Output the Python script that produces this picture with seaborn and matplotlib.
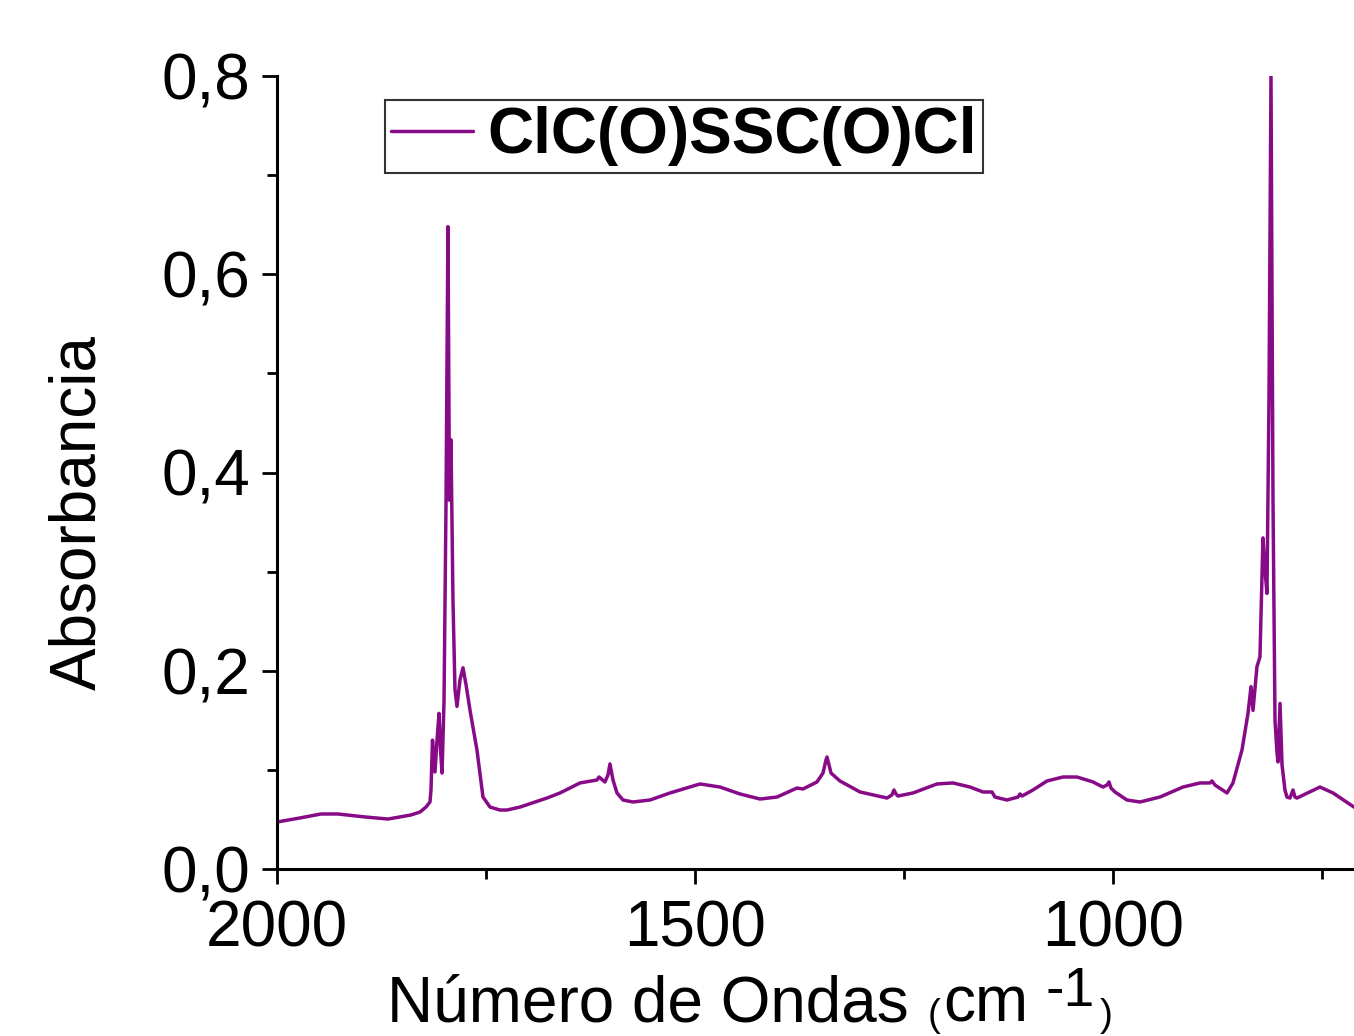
import numpy as np
import pandas as pd
import matplotlib
matplotlib.use("Agg")
import matplotlib.pyplot as plt
from matplotlib.ticker import FixedLocator, FuncFormatter
import seaborn as sns

# IR spectrum of ClC(O)SSC(O)Cl, 2000-710 cm-1
wavenumber = [
    2000.0, 1972.5, 1947.4, 1927.0, 1894.7, 1867.2, 1839.7, 1828.9, 1821.8, 1817.0,
    1815.8, 1814.0, 1811.0, 1808.6, 1806.2, 1804.4, 1802.6, 1800.2, 1797.8, 1795.5,
    1793.7, 1791.9, 1789.5, 1787.1, 1784.7, 1781.1, 1777.5, 1773.9, 1769.1, 1760.8,
    1753.6, 1745.2, 1733.3, 1724.9, 1709.3, 1677.0, 1661.5, 1637.6, 1617.2, 1614.8,
    1607.7, 1604.1, 1601.7, 1598.1, 1593.3, 1586.1, 1574.2, 1553.8, 1529.9, 1494.0,
    1470.1, 1446.2, 1422.2, 1401.9, 1378.0, 1370.8, 1354.1, 1346.9, 1343.3, 1342.1,
    1339.7, 1337.3, 1326.6, 1302.6, 1270.3, 1264.4, 1262.0, 1259.6, 1257.2, 1239.2,
    1210.5, 1191.4, 1171.0, 1155.5, 1144.7, 1141.2, 1126.8, 1113.6, 1111.2, 1108.8,
    1095.7, 1078.9, 1059.8, 1043.0, 1023.9, 1012.0, 1007.2, 1004.8, 1002.4, 997.6,
    983.3, 967.7, 943.8, 916.3, 895.9, 884.0, 881.6, 878.0, 863.6, 856.5,
    845.7, 838.5, 834.9, 832.5, 827.8, 824.2, 820.6, 818.2, 815.8, 813.4,
    811.0, 808.6, 806.2, 803.8, 802.6, 800.2, 797.8, 794.3, 791.9, 788.3,
    784.7, 782.3, 779.9, 752.4, 736.8, 711.7, 705.0,
]
absorbance = [
    0.0474, 0.0515, 0.0555, 0.0555, 0.0525, 0.0504, 0.0545, 0.0575, 0.0625, 0.0676,
    0.0797, 0.1300, 0.0979, 0.1300, 0.1570, 0.1200, 0.0968, 0.1700, 0.3720, 0.6480,
    0.3720, 0.4330, 0.2710, 0.1810, 0.1640, 0.1910, 0.2030, 0.1860, 0.1600, 0.1200,
    0.0726, 0.0625, 0.0595, 0.0595, 0.0625, 0.0716, 0.0767, 0.0868, 0.0898, 0.0928,
    0.0878, 0.0948, 0.1060, 0.0898, 0.0767, 0.0696, 0.0676, 0.0696, 0.0767, 0.0858,
    0.0827, 0.0757, 0.0706, 0.0726, 0.0817, 0.0807, 0.0878, 0.0968, 0.1100, 0.1130,
    0.1050, 0.0968, 0.0888, 0.0777, 0.0716, 0.0747, 0.0797, 0.0757, 0.0736, 0.0767,
    0.0858, 0.0868, 0.0827, 0.0777, 0.0777, 0.0726, 0.0696, 0.0726, 0.0757, 0.0736,
    0.0797, 0.0888, 0.0928, 0.0928, 0.0878, 0.0827, 0.0847, 0.0878, 0.0817, 0.0777,
    0.0696, 0.0676, 0.0726, 0.0827, 0.0868, 0.0868, 0.0888, 0.0847, 0.0767, 0.0868,
    0.1200, 0.1570, 0.1840, 0.1600, 0.2040, 0.2140, 0.3340, 0.3020, 0.2780, 0.4730,
    0.8000, 0.3720, 0.1500, 0.1170, 0.1080, 0.1670, 0.1050, 0.0797, 0.0726, 0.0716,
    0.0797, 0.0726, 0.0716, 0.0827, 0.0767, 0.0625, 0.0600,
]

series_label = "ClC(O)SSC(O)Cl"
x_major = [2000, 1500, 1000]
x_minor = [1750, 1250, 750]
y_major = [0.0, 0.2, 0.4, 0.6, 0.8]
y_minor = [0.1, 0.3, 0.5, 0.7]

sns.set_style("ticks")
plt.rcParams["font.family"] = ["Liberation Sans", "DejaVu Sans"]
plt.rcParams["text.color"] = "black"
plt.rcParams["axes.labelcolor"] = "black"

W, H = 1354, 1036
fig = plt.figure(figsize=(W / 100, H / 100), dpi=100)
ax = fig.add_axes([277 / W, 167 / H, 1 - 277 / W, 793 / H])

df = pd.DataFrame({"wn": wavenumber, "A": absorbance})
line_color = "#870a87"
sns.lineplot(data=df, x="wn", y="A", sort=False, color=line_color,
             linewidth=2.5, label=series_label, ax=ax)

ax.set_xlim(2000, 711.7)
ax.set_ylim(0, 0.8)

ax.xaxis.set_major_locator(FixedLocator(x_major))
ax.xaxis.set_minor_locator(FixedLocator(x_minor))
ax.yaxis.set_major_locator(FixedLocator(y_major))
ax.yaxis.set_minor_locator(FixedLocator(y_minor))
ax.xaxis.set_major_formatter(FuncFormatter(lambda v, p: f"{int(round(v))}"))
ax.yaxis.set_major_formatter(FuncFormatter(lambda v, p: f"{v:.1f}".replace(".", ",")))

for side in ("top", "right"):
    ax.spines[side].set_visible(False)
for side in ("left", "bottom"):
    ax.spines[side].set_linewidth(2.2)
    ax.spines[side].set_color("black")

ax.tick_params(which="major", direction="out", length=11, width=2.0,
               labelsize=46, colors="black")
ax.tick_params(which="minor", direction="out", length=7, width=2.0, colors="black")
ax.tick_params(axis="x", which="major", pad=11)
ax.tick_params(axis="y", which="major", pad=8)

ax.set_xlabel("")
ax.set_ylabel("Absorbancia", fontsize=46, color="black")
ax.yaxis.set_label_coords(-0.157, 0.45)

# Axis title with small parentheses and a raised exponent
def ftext(px, py, s, size):
    fig.text(px / W, 1 - py / H, s, fontsize=size, ha="left", va="baseline",
             color="black")

ftext(387, 1022, "Número de Ondas", 46)
ftext(928, 1026, "(", 28)
ftext(943, 1022, "cm", 46)
ftext(1045, 1006, "-1", 40)
ftext(1100, 1026, ")", 28)

leg = ax.legend(loc="upper left", bbox_to_anchor=((385 - 277) / 1077, (869 - 100) / 793),
                borderaxespad=0, borderpad=0.1, handlelength=1.27, handletextpad=0.23,
                fancybox=False, framealpha=1, edgecolor="#333333",
                prop={"size": 46, "weight": "bold", "family": ["Liberation Sans", "DejaVu Sans"]})
leg.get_frame().set_linewidth(1.5)
for t in leg.get_texts():
    t.set_color("black")

fig.savefig("out.png", dpi=100, facecolor="white")
